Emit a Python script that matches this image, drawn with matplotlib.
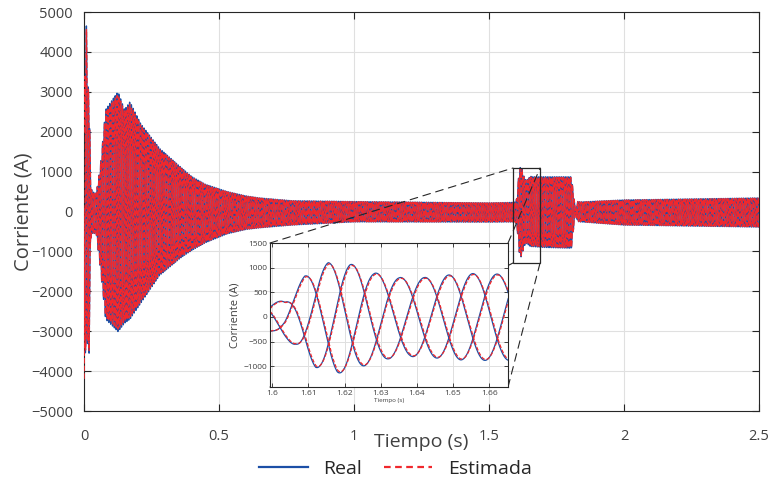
import numpy as np
import matplotlib
matplotlib.use("Agg")
import matplotlib.pyplot as plt
from matplotlib.patches import Rectangle, ConnectionPatch
from matplotlib.lines import Line2D

plt.rcParams['font.family'] = ['Open Sans', 'DejaVu Sans']

# ---------------- data ----------------
f_grid = 50.0  # Hz, carrier frequency (three-phase currents)

# upper envelope of the currents (A)
hi_t = [0.000, 0.0088, 0.013, 0.019, 0.024, 0.030, 0.045, 0.060, 0.080, 0.110,
        0.126, 0.150, 0.170, 0.210, 0.280, 0.360, 0.400, 0.450, 0.530, 0.600,
        0.650, 0.770, 1.000, 1.500, 1.595, 1.600, 1.6035, 1.609, 1.6155, 1.6215,
        1.628, 1.635, 1.642, 1.6485, 1.655, 1.6615, 1.700, 1.805, 1.815, 1.820,
        1.828, 1.840, 2.000, 2.500]
hi_v = [3000, 4650, 3100, 3150, 700, 500, 450, 1100, 2550, 2850,
        3000, 2550, 2750, 2200, 1580, 1100, 870, 680, 500, 390,
        340, 270, 250, 215, 230, 300, 330, 830, 1100, 1080,
        900, 800, 800, 850, 880, 870, 870, 870, 300, 30,
        250, 240, 290, 340]
# lower envelope of the currents (A)
lo_t = [0.000, 0.0055, 0.012, 0.0188, 0.024, 0.030, 0.045, 0.060, 0.080, 0.110,
        0.126, 0.150, 0.170, 0.210, 0.280, 0.360, 0.400, 0.450, 0.530, 0.600,
        0.650, 0.770, 1.000, 1.500, 1.595, 1.600, 1.6065, 1.612, 1.618, 1.6245,
        1.632, 1.638, 1.645, 1.652, 1.658, 1.665, 1.700, 1.805, 1.815, 1.820,
        1.828, 1.840, 2.000, 2.500]
lo_v = [-4450, -3500, -3300, -3550, -700, -550, -550, -1400, -2700, -2900,
        -3010, -2800, -2700, -2300, -1600, -1150, -970, -780, -560, -450,
        -410, -340, -260, -265, -260, -300, -580, -1020, -1150, -1010,
        -850, -800, -830, -870, -880, -880, -900, -920, -300, -30,
        -250, -260, -340, -390]

t_peak_a = 1.6155          # time of a positive peak of phase a (inset)
est_shift = 0.0002         # lag of the estimate (s)
est_gain = 0.98            # gain of the estimate

xticks_main = [0, 0.5, 1, 1.5, 2, 2.5]
xticklabels_main = ['0', '0.5', '1', '1.5', '2', '2.5']
yticks_main = list(range(-5000, 5001, 1000))
xticks_in = [1.6, 1.61, 1.62, 1.63, 1.64, 1.65, 1.66]
xticklabels_in = ['1.6', '1.61', '1.62', '1.63', '1.64', '1.65', '1.66']
yticks_in = [-1000, -500, 0, 500, 1000, 1500]

blue = '#1c4fa6'
red = '#f0282d'

# ---------------- signals ----------------
t = np.linspace(0, 2.5, 50001)
phi0 = np.pi / 2 - 2 * np.pi * f_grid * t_peak_a


def phases(tt, gain=1.0):
    hi = np.interp(tt, hi_t, hi_v)
    lo = np.interp(tt, lo_t, lo_v)
    amp = (hi - lo) / 2 * gain
    off = (hi + lo) / 2 * gain
    out = []
    for k in range(3):
        out.append(off + amp * np.sin(2 * np.pi * f_grid * tt + phi0 - 2 * np.pi * k / 3))
    return out


real = phases(t)
est = phases(t - est_shift, est_gain)

# ---------------- figure ----------------
fig = plt.figure(figsize=(7.68, 4.86), dpi=100)
ax = fig.add_axes([0.1094, 0.1543, 0.8789, 0.8210])

for y in real:
    ax.plot(t, y, color=blue, lw=1.0, zorder=2)
for y in est:
    ax.plot(t, y, color=red, lw=1.0, ls=(0, (4, 1.5)), zorder=3)

ax.set_xlim(0, 2.5)
ax.set_ylim(-5000, 5000)
ax.set_xticks(xticks_main)
ax.set_xticklabels(xticklabels_main)
ax.set_yticks(yticks_main)
ax.grid(True, color='#e0e0e0', lw=0.8)
ax.set_axisbelow(True)
ax.tick_params(direction='in', length=5, width=0.8, color='#262626',
               labelsize=10.5, labelcolor='#404040', top=True, right=True)
ax.tick_params(axis='x', pad=13)
ax.tick_params(axis='y', pad=8)
for s in ax.spines.values():
    s.set_color('#262626')
    s.set_linewidth(0.8)
ax.set_xlabel('Tiempo (s)', fontsize=14, color='#404040')
ax.xaxis.set_label_coords(0.5, -0.055)
ax.set_ylabel('Corriente (A)', fontsize=14.5, color='#404040')
ax.yaxis.set_label_coords(-0.075, 0.5)

# zoom box on main axes
bx0, bx1, by0, by1 = 1.589, 1.689, -1290, 1090
ax.add_patch(Rectangle((bx0, by0), bx1 - bx0, by1 - by0, fill=False,
                       ec='#262626', lw=0.9, zorder=6))

# inset
axin = fig.add_axes([0.3516, 0.2037, 0.3099, 0.2963])
axin.set_zorder(5)
m = (t > 1.595) & (t < 1.67)
for y in real:
    axin.plot(t[m], y[m], color=blue, lw=0.9)
for y in est:
    axin.plot(t[m], y[m], color=red, lw=0.9, ls=(0, (3, 1.5)))
ix0, ix1, iy0, iy1 = 1.5994, 1.6652, -1420, 1500
axin.set_xlim(ix0, ix1)
axin.set_ylim(iy0, iy1)
axin.set_xticks(xticks_in)
axin.set_xticklabels(xticklabels_in)
axin.set_yticks(yticks_in)
axin.grid(True, color='#e0e0e0', lw=0.7)
axin.set_axisbelow(True)
axin.tick_params(direction='in', length=3, width=0.6, color='#262626',
                 labelsize=6, labelcolor='#404040', top=True, right=True, pad=2)
for s in axin.spines.values():
    s.set_color('#262626')
    s.set_linewidth(0.8)
axin.set_xlabel('Tiempo (s)', fontsize=4.5, color='#404040', labelpad=1)
axin.set_ylabel('Corriente (A)', fontsize=8, color='#404040', labelpad=2)

# connector lines (inset corners -> box corners)
for (xa, ya), (xb, yb) in [((ix0, iy1), (bx0, by1)), ((ix1, iy1), (bx1, by1)),
                           ((ix1, iy0), (bx1, by0)), ((ix0, iy0), (bx0, by0))]:
    cp = ConnectionPatch(xyA=(xa, ya), coordsA=axin.transData,
                         xyB=(xb, yb), coordsB=ax.transData,
                         color='#262626', lw=0.8, ls=(0, (7, 5)), zorder=4)
    fig.add_artist(cp)

# legend
handles = [Line2D([], [], color=blue, lw=1.6),
           Line2D([], [], color=red, lw=1.6, ls=(0, (3, 2)))]
fig.legend(handles, ['Real', 'Estimada'], loc='center', bbox_to_anchor=(0.515, 0.035),
           ncol=2, frameon=False, fontsize=14, handlelength=2.5, handletextpad=0.8,
           columnspacing=1.1, labelcolor='#262626')

fig.savefig('out.png', dpi=100)
